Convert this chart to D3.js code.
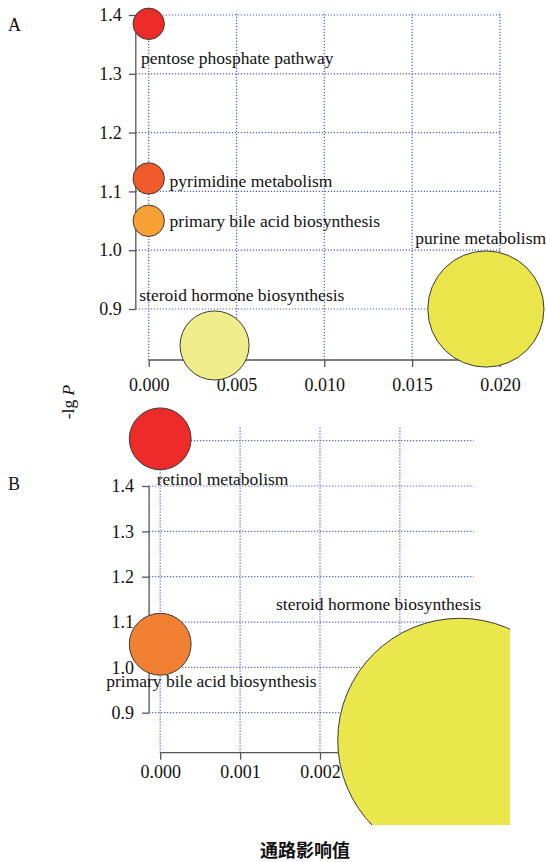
<!DOCTYPE html>
<html>
<head>
<meta charset="utf-8">
<script src="https://cdn.jsdelivr.net/npm/d3@7"></script>
<style>
  body { margin: 0; background: #fff; }
  svg { display: block; }
  text { font-family: "Liberation Serif", "Times New Roman", serif; fill: #111; }
</style>
</head>
<body>
<script>
let width = 546;
let height = 862;

// panel A data
let pathwaysA = ['pentose phosphate pathway', 'pyrimidine metabolism', 'primary bile acid biosynthesis',
    'steroid hormone biosynthesis', 'purine metabolism'];
let impactA = [0, 0, 0, 0.00375, 0.0192];
let logPA = [1.385, 1.122, 1.05, 0.838, 0.900];
let sizeA = [1, 1, 1, 2.2, 3.7];
let colorsA = ['#ed2b2b', '#f15a2a', '#f7a134', '#eeec8b', '#e9e54b'];
let xTicksA = [0, 0.005, 0.010, 0.015, 0.020];
let yTicksA = [0.9, 1.0, 1.1, 1.2, 1.3, 1.4];

// panel B data
let pathwaysB = ['retinol metabolism', 'primary bile acid biosynthesis', 'steroid hormone biosynthesis'];
let impactB = [0, 0, 0.00375];
let logPB = [1.504, 1.051, 0.839];
let sizeB = [1, 1, 3.95];
let colorsB = ['#ed2b2b', '#f28033', '#e9e74b'];
let xTicksB = [0, 0.001, 0.002, 0.003];
let yTicksB = [0.9, 1.0, 1.1, 1.2, 1.3, 1.4];
let yGridB = [0.9, 1.0, 1.1, 1.2, 1.3, 1.4, 1.5];

// label offsets from the bubble centre (px)
let labelOffA = [[-7.7, 40.5], [20.9, 8.3], [20.9, 6.6], [-75.3, -44.3], [-70.5, -64.7]];
let labelOffB = [[-3.5, 46], [-54, 43.2], [-183.8, -130.3]];

let svg = d3.select("body").append("svg")
    .attr("width", width)
    .attr("height", height);

svg.append("defs").append("clipPath").attr("id", "clipB")
    .append("rect").attr("x", 0).attr("y", 400).attr("width", 510).attr("height", 425);

const drawPanel = function (cfg) {
    let g = svg.append("g");
    let x = d3.scaleLinear().domain(cfg.xDomain).range(cfg.xRange);
    let y = d3.scaleLinear().domain(cfg.yDomain).range(cfg.yRange);
    let r = d3.scaleLinear().domain([0, 1]).range([0, cfg.r1]);

    // dotted grid
    let grid = g.append("g")
        .attr("stroke", "#4d5fd3")
        .attr("stroke-width", 1.2)
        .attr("stroke-dasharray", "1.2,1.8");
    grid.selectAll("line.h").data(cfg.yGrid).enter().append("line")
        .attr("x1", x.range()[0]).attr("x2", x.range()[1])
        .attr("y1", d => y(d)).attr("y2", d => y(d));
    grid.selectAll("line.v").data(cfg.xTicks).enter().append("line")
        .attr("x1", d => x(d)).attr("x2", d => x(d))
        .attr("y1", y.range()[0]).attr("y2", y.range()[1]);

    // R style axes: line only between first and last tick
    let xAxis = g.append("g")
        .attr("transform", `translate(0,${y.range()[0]})`)
        .call(d3.axisBottom(x).tickValues(cfg.xTicks).tickFormat(d3.format(".3f"))
            .tickSize(7).tickPadding(cfg.xPad));
    let yAxis = g.append("g")
        .attr("transform", `translate(${x.range()[0]},0)`)
        .call(d3.axisLeft(y).tickValues(cfg.yTicks).tickFormat(d3.format(".1f"))
            .tickSize(7).tickPadding(cfg.yPad));
    [xAxis, yAxis].forEach(a => {
        a.attr("font-family", null).attr("font-size", null);
        a.select(".domain").remove();
        a.selectAll(".tick line").attr("stroke", "#555").attr("stroke-width", 1.3);
        a.selectAll(".tick text").style("font-family", "Liberation Serif").style("font-size", "18px").attr("fill", "#111");
    });
    xAxis.append("line")
        .attr("x1", x(cfg.xTicks[0])).attr("x2", x(cfg.xTicks[cfg.xTicks.length - 1]))
        .attr("stroke", "#555").attr("stroke-width", 1.3);
    yAxis.append("line")
        .attr("y1", y(cfg.yTicks[0])).attr("y2", y(cfg.yTicks[cfg.yTicks.length - 1]))
        .attr("stroke", "#555").attr("stroke-width", 1.3);

    // bubbles
    let bub = g.append("g");
    if (cfg.clip) bub.attr("clip-path", `url(#${cfg.clip})`);
    bub.selectAll("circle").data(cfg.names).enter().append("circle")
        .attr("cx", (d, i) => x(cfg.impact[i]))
        .attr("cy", (d, i) => y(cfg.logP[i]))
        .attr("r", (d, i) => r(cfg.size[i]))
        .attr("fill", (d, i) => cfg.colors[i])
        .attr("stroke", "#3a3a3a")
        .attr("stroke-width", 1);

    g.selectAll("text.lab").data(cfg.names).enter().append("text")
        .attr("class", "lab")
        .attr("x", (d, i) => x(cfg.impact[i]) + cfg.offsets[i][0])
        .attr("y", (d, i) => y(cfg.logP[i]) + cfg.offsets[i][1])
        .style("font-size", "17.5px")
        .text(d => d);

    g.append("text")
        .attr("x", 8).attr("y", cfg.letterY)
        .style("font-size", "18px")
        .text(cfg.letter);
};

drawPanel({
    names: pathwaysA, impact: impactA, logP: logPA, size: sizeA, colors: colorsA,
    xTicks: xTicksA, yTicks: yTicksA, yGrid: yTicksA, offsets: labelOffA,
    xDomain: [-0.000735, 0.02009], xRange: [135.8, 501.5],
    yDomain: [0.8133, 1.4056], yRange: [360, 11.7],
    r1: 15.7, xPad: 11, yPad: 7, letter: 'A', letterY: 31
});

drawPanel({
    names: pathwaysB, impact: impactB, logP: logPB, size: sizeB, colors: colorsB,
    xTicks: xTicksB, yTicks: yTicksB, yGrid: yGridB, offsets: labelOffB,
    xDomain: [-0.000139, 0.003924], xRange: [149.1, 473.7],
    yDomain: [0.8118, 1.5308], yRange: [752.7, 426.7],
    r1: 30.9, xPad: 6, yPad: 8, letter: 'B', letterY: 490, clip: 'clipB'
});

// shared axis titles
let yTitle = svg.append("text")
    .attr("transform", "translate(74,402) rotate(-90)")
    .attr("text-anchor", "middle")
    .style("font-size", "17.5px");
yTitle.append("tspan").text("-lg ");
yTitle.append("tspan").style("font-style", "italic").text("P");

svg.append("text")
    .attr("x", 305).attr("y", 857)
    .attr("text-anchor", "middle")
    .style("font-family", "Noto Sans CJK SC")
    .style("font-weight", "bold")
    .style("font-size", "18px")
    .text("通路影响值");
</script>
</body>
</html>
